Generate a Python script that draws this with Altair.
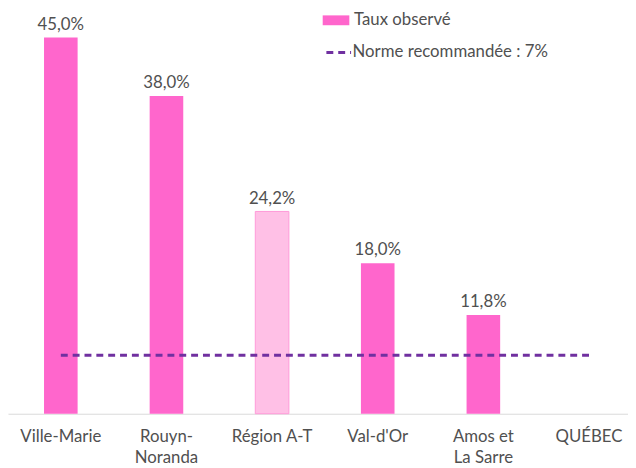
import altair as alt
import pandas as pd

categories = ["Ville-Marie", "Rouyn-Noranda", "Région A-T", "Val-d'Or", "Amos et La Sarre", "QUÉBEC"]
values = [45.0, 38.0, 24.2, 18.0, 11.8, None]
serie = "Taux observé"
norme_value = 7
norme_label = "Norme recommandée : 7%"

FONT = "Lato"
FS = 17
TXT = "#505050"

bars_df = pd.DataFrame({"cat": categories, "val": values, "serie": [serie] * len(categories)})
bars_df = bars_df.dropna()
rule_df = pd.DataFrame({"start": [categories[0]], "end": [categories[-1]], "v": [norme_value], "label": [norme_label]})

x_scale = alt.Scale(domain=categories, range=[0, 642], paddingInner=0.682, paddingOuter=0.341)
y_scale = alt.Scale(domain=[0, 48.19], nice=False)

label_expr = ("datum.label == 'Rouyn-Noranda' ? ['Rouyn-', 'Noranda'] : "
              "datum.label == 'Amos et La Sarre' ? ['Amos et', 'La Sarre'] : datum.label")

x_axis = alt.Axis(title=None, ticks=False, domainColor="#D9D9D9", domainWidth=1,
                  labelFont=FONT, labelFontSize=FS, labelColor=TXT, labelPadding=15,
                  labelLineHeight=21, labelAngle=0, labelExpr=label_expr, grid=False)

base = alt.Chart(bars_df)

bars = base.mark_bar(strokeWidth=1).encode(
    x=alt.X("cat:N", scale=x_scale, axis=x_axis, sort=categories),
    y=alt.Y("val:Q", scale=y_scale, axis=None),
    color=alt.condition(
        "datum.cat == 'Région A-T'",
        alt.value("#FFC0E6"),
        alt.Color("serie:N", scale=alt.Scale(domain=[serie], range=["#FF66CC"]),
                  legend=alt.Legend(title=None, orient="none", legendX=323.75, legendY=1,
                                    symbolType="M-2,-0.74H2V0.74H-2Z", symbolSize=182,
                                    symbolStrokeWidth=0, symbolOpacity=1,
                                    labelFont=FONT, labelFontSize=FS, labelColor=TXT,
                                    labelOffset=9.75, labelLimit=400, padding=0)),
    ),
    stroke=alt.condition("datum.cat == 'Région A-T'", alt.value("#FF99D8"), alt.value(None)),
)

labels = base.transform_calculate(
    lbl="replace(format(datum.val, '.1f'), '.', ',') + '%'"
).mark_text(baseline="alphabetic", dy=-8, font=FONT, fontSize=FS, color=TXT).encode(
    x=alt.X("cat:N", scale=x_scale, sort=categories),
    y=alt.Y("val:Q", scale=y_scale),
    text="lbl:N",
)

rule = alt.Chart(rule_df).mark_rule(color="#7030A0", strokeWidth=3).encode(
    x=alt.X("start:N", scale=x_scale, bandPosition=0.5),
    x2="end:N",
    y=alt.Y("v:Q", scale=y_scale),
    strokeDash=alt.StrokeDash("label:N", scale=alt.Scale(domain=[norme_label], range=[[7, 5]]),
                              legend=alt.Legend(title=None, orient="none", legendX=321, legendY=28,
                                                symbolType="stroke", symbolSize=625,
                                                symbolStrokeColor="#7030A0", symbolStrokeWidth=3,
                                                labelFont=FONT, labelFontSize=FS, labelColor=TXT,
                                                labelOffset=0, labelLimit=400, padding=0)),
)

chart = alt.layer(bars, labels, rule).resolve_legend(color="independent", strokeDash="independent").properties(
    width=628, height=408,
    autosize=alt.AutoSizeParams(type="none"),
    padding={"left": 0, "top": 0, "right": 0, "bottom": 52},
).configure_view(stroke=None)

chart.save("out.html", embed_options={"renderer": "svg", "actions": False})
